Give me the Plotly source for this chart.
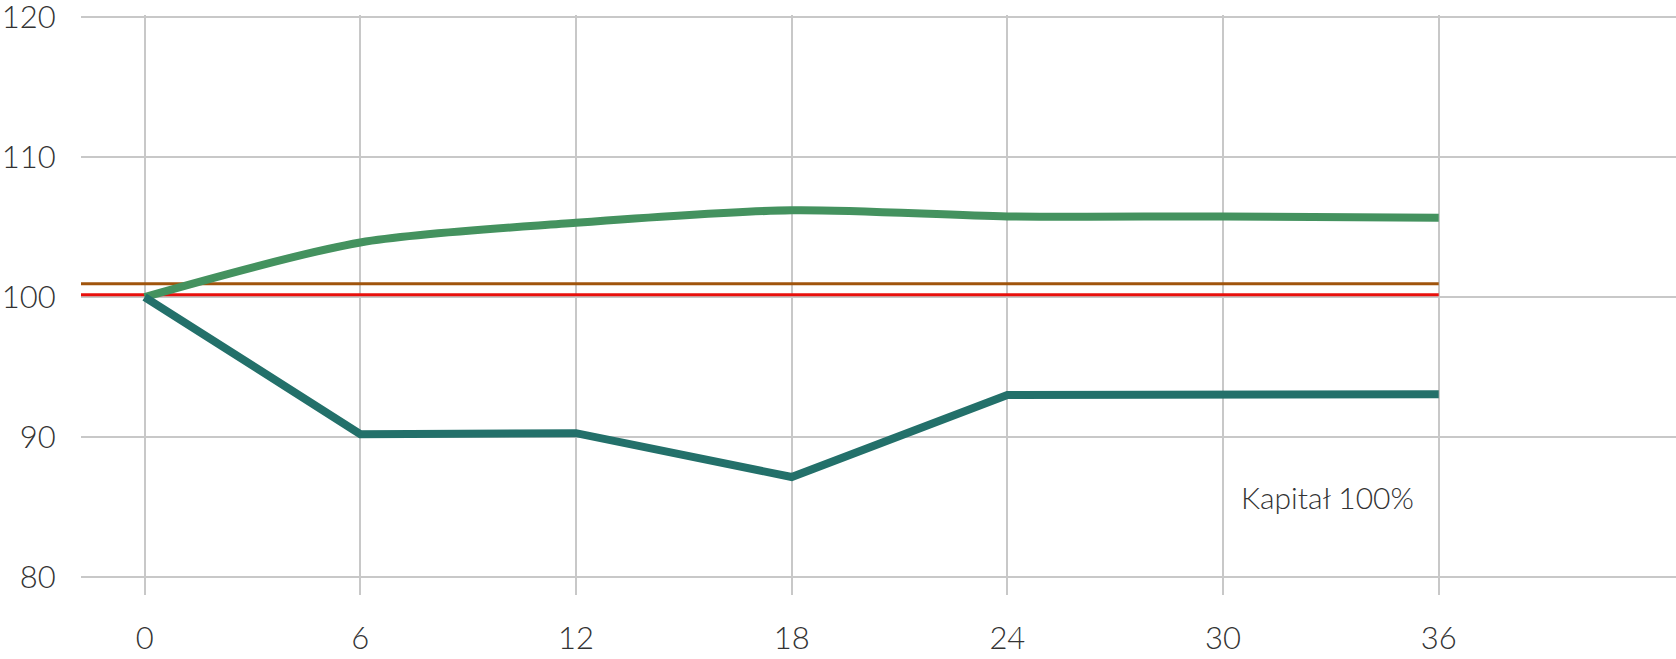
import plotly.graph_objects as go

months = [0, 6, 12, 18, 24, 30, 36]
upper_values = [100.0, 103.9, 105.3, 106.2, 105.76, 105.76, 105.67]
lower_values = [100.0, 90.2, 90.27, 87.14, 93.0, 93.0, 93.05]
ref_x = [-1.77, 36]
brown_level = [100.95, 100.95]
red_level = [100.17, 100.17]
y_ticks = [80, 90, 100, 110, 120]
x_ticks = [0, 6, 12, 18, 24, 30, 36]
note_text = "Kapitał 100%"

FONT = "Lato"

fig = go.Figure()
fig.add_trace(go.Scatter(x=ref_x, y=brown_level, mode="lines",
                         line=dict(color="#A0540C", width=3), hoverinfo="skip"))
fig.add_trace(go.Scatter(x=ref_x, y=red_level, mode="lines",
                         line=dict(color="#E8100C", width=3), hoverinfo="skip"))
fig.add_trace(go.Scatter(x=months, y=upper_values, mode="lines",
                         line=dict(color="#44925F", width=8, shape="spline", smoothing=0.8)))
fig.add_trace(go.Scatter(x=months, y=lower_values, mode="lines",
                         line=dict(color="#23706A", width=8)))

fig.add_annotation(x=32.9, y=85.7, text=note_text, showarrow=False,
                   font=dict(family=FONT, size=30, color="#333333", weight=300))

fig.update_layout(
    width=1676, height=659,
    margin=dict(l=81, r=0, t=15, b=64),
    paper_bgcolor="white", plot_bgcolor="white",
    showlegend=False,
    font=dict(family=FONT, color="#333333", weight=300),
)
fig.update_xaxes(range=[-1.77, 42.6], tickvals=x_ticks, showgrid=True, automargin=False,
                 gridcolor="#C8C8C8", gridwidth=2, zeroline=False, showline=False,
                 ticks="outside", ticklen=16, tickcolor="rgba(0,0,0,0)",
                 ticklabeloverflow="allow",
                 tickfont=dict(family=FONT, size=31, color="#333333", weight=300))
fig.update_yaxes(range=[78.71, 120.15], tickvals=y_ticks, showgrid=True, automargin=False,
                 gridcolor="#C8C8C8", gridwidth=2, zeroline=False, showline=False,
                 ticks="outside", ticklen=18, tickcolor="rgba(0,0,0,0)",
                 ticklabeloverflow="allow",
                 tickfont=dict(family=FONT, size=31, color="#333333", weight=300))

fig.write_html("out.html", config={"displayModeBar": False},
               post_script="document.body.style.margin='0';")
